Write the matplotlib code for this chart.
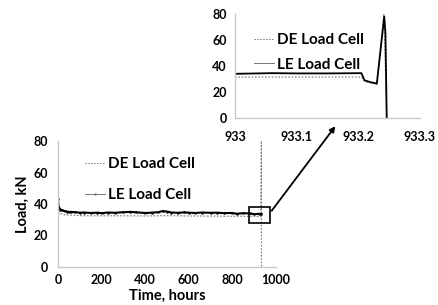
import matplotlib
matplotlib.use("Agg")
import matplotlib.pyplot as plt
from matplotlib.patches import Rectangle, FancyArrowPatch

plt.rcParams['font.family'] = ['Lato', 'DejaVu Sans']

# ---- main chart data (time in hours, load in kN) ----
le_time = [0, 2, 5, 10, 20, 30, 40, 50, 60, 80, 100, 120, 150, 180, 200, 230, 260,
           300, 330, 360, 400, 430, 460, 480, 500, 520, 550, 580, 600, 630, 660,
           700, 730, 760, 800, 820, 850, 880, 900, 920, 933]
le_load = [43, 39, 37.5, 36.5, 36, 35.5, 35.2, 35, 35, 34.8, 34.5, 34.6, 34.3, 34.5,
           34.2, 34.6, 34.4, 34.8, 35, 34.7, 34.3, 34.5, 34.8, 35.5, 35.2, 34.6,
           34.4, 34.7, 34.5, 34.3, 34.6, 34.4, 34.5, 34.2, 34.3, 33.8, 34.2, 34,
           33.5, 33.8, 33.5]
de_time = [0, 0.5, 2, 5, 10, 20, 30, 50, 80, 100, 150, 200, 300, 400, 500, 600, 700,
           800, 900, 930, 933, 933.3]
de_load = [0, 40, 36, 34.5, 34, 33.5, 33.2, 33, 32.8, 32.6, 32.5, 32.5, 32.5, 32.4,
           32.6, 32.4, 32.3, 32.2, 32.2, 32, 80, 0]

# ---- inset data (zoom on failure) ----
de_time_z = [933.0, 933.05, 933.1, 933.15, 933.205, 933.21, 933.22, 933.23, 933.2415, 933.246]
de_load_z = [31.5, 31.5, 31.5, 31.5, 31.5, 28, 27, 26, 80, 0]
le_time_z = [933.0, 933.06, 933.1, 933.15, 933.205, 933.21, 933.22, 933.23, 933.242, 933.244, 933.246]
le_load_z = [34, 34.5, 34.3, 34.3, 34.5, 29, 27.5, 26.5, 78, 65, 0]

main_xticks = [0, 200, 400, 600, 800, 1000]
main_yticks = [0, 20, 40, 60, 80]
inset_xticks = [933, 933.1, 933.2, 933.3]
inset_xlabels = ['933', '933.1', '933.2', '933.3']
inset_yticks = [0, 20, 40, 60, 80]

W, H = 438, 305
fig = plt.figure(figsize=(W / 100, H / 100), dpi=100)

spine_col = '#c8c8c8'


def style(ax, xpad, ypad):
    for s in ['top', 'right']:
        ax.spines[s].set_visible(False)
    for s in ['left', 'bottom']:
        ax.spines[s].set_color(spine_col)
        ax.spines[s].set_linewidth(1.0)
    ax.tick_params(axis='x', length=0, pad=xpad)
    ax.tick_params(axis='y', length=0, pad=ypad)
    for lab in ax.get_xticklabels() + ax.get_yticklabels():
        lab.set_fontweight('bold')
        lab.set_fontsize(9)


# main axes
ax = fig.add_axes([58 / W, 1 - 267 / H, 218 / W, 126 / H])
ax.plot(de_time, de_load, color='#777777', lw=0.8, ls=(0, (1.5, 1.5)), label='DE Load Cell')
ax.plot(le_time, le_load, color='black', lw=1.5, marker='.', ms=1.5, label='LE Load Cell')
ax.set_xlim(0, 1000)
ax.set_ylim(0, 80)
ax.set_xticks(main_xticks)
ax.set_yticks(main_yticks)
style(ax, 5, 7)
ax.set_xlabel('Time, hours', fontsize=10.5, fontweight='bold', labelpad=2)
ax.set_ylabel('Load, kN', fontsize=10.5, fontweight='bold', labelpad=3)
leg = ax.legend(loc='upper left', bbox_to_anchor=(0.06, 0.98), frameon=False,
                prop=dict(size=11, weight='bold'), handlelength=1.3, handletextpad=0.2,
                labelspacing=1.1)
for h in leg.get_lines():
    h.set_linewidth(0.7)
    h.set_color('#777777')

ax.add_patch(Rectangle((878, 28), 94, 10, fill=False, edgecolor='black', lw=1.2, zorder=5))

# inset axes
ax2 = fig.add_axes([235 / W, 1 - 118 / H, 185 / W, 104 / H])
ax2.plot(de_time_z, de_load_z, color='#777777', lw=0.8, ls=(0, (1.5, 1.5)), label='DE Load Cell')
ax2.plot(le_time_z, le_load_z, color='black', lw=1.3, label='LE Load Cell')
ax2.set_xlim(933, 933.3)
ax2.set_ylim(0, 80)
ax2.set_xticks(inset_xticks)
ax2.set_xticklabels(inset_xlabels)
ax2.set_yticks(inset_yticks)
style(ax2, 9, 6)
leg2 = ax2.legend(loc='upper left', bbox_to_anchor=(0.03, 0.95), frameon=False,
                  prop=dict(size=11, weight='bold'), handlelength=1.3, handletextpad=0.2,
                  labelspacing=0.7)
for h in leg2.get_lines():
    h.set_linewidth(0.7)
    h.set_color('#777777')

# arrow from rectangle to inset
arr = FancyArrowPatch((270 / W, 1 - 213 / H), (337 / W, 1 - 124 / H),
                      transform=fig.transFigure, arrowstyle='-|>', mutation_scale=8,
                      color='black', lw=1.3)
fig.patches.append(arr)

fig.savefig('out.png', dpi=100)
